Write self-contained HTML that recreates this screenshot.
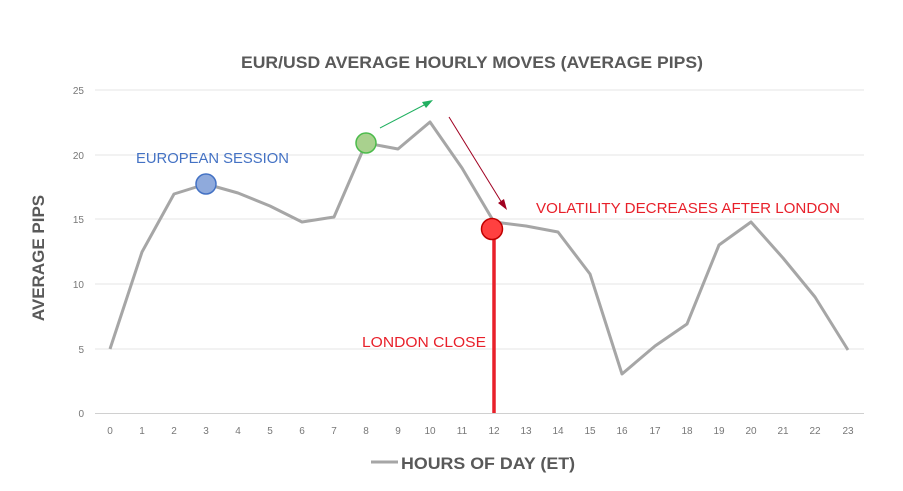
<!DOCTYPE html>
<html><head><meta charset="utf-8"><style>
body{margin:0;background:#fff;}
svg{display:block;font-family:"Liberation Sans",sans-serif;}
</style></head><body>
<svg width="903" height="491" viewBox="0 0 903 491">
<rect width="903" height="491" fill="#fff"/>
<text x="241" y="68" textLength="462" lengthAdjust="spacingAndGlyphs" font-size="17" font-weight="bold" fill="#595959">EUR/USD AVERAGE HOURLY MOVES (AVERAGE PIPS)</text>
<g stroke="#e6e6e6" stroke-width="1">
<line x1="95" y1="90" x2="864" y2="90"/>
<line x1="95" y1="155" x2="864" y2="155"/>
<line x1="95" y1="219" x2="864" y2="219"/>
<line x1="95" y1="284" x2="864" y2="284"/>
<line x1="95" y1="349" x2="864" y2="349"/>
</g>
<line x1="95" y1="413.5" x2="864" y2="413.5" stroke="#d0d0d0" stroke-width="1"/>
<g font-size="10" fill="#777" text-anchor="end">
<text x="84" y="94">25</text><text x="84" y="159">20</text><text x="84" y="223">15</text><text x="84" y="288">10</text><text x="84" y="353">5</text><text x="84" y="417">0</text>
</g>
<g font-size="10" fill="#777" text-anchor="middle">
<text x="110" y="434">0</text><text x="142" y="434">1</text><text x="174" y="434">2</text><text x="206" y="434">3</text><text x="238" y="434">4</text><text x="270" y="434">5</text><text x="302" y="434">6</text><text x="334" y="434">7</text><text x="366" y="434">8</text><text x="398" y="434">9</text><text x="430" y="434">10</text><text x="462" y="434">11</text><text x="494" y="434">12</text><text x="526" y="434">13</text><text x="558" y="434">14</text><text x="590" y="434">15</text><text x="622" y="434">16</text><text x="655" y="434">17</text><text x="687" y="434">18</text><text x="719" y="434">19</text><text x="751" y="434">20</text><text x="783" y="434">21</text><text x="815" y="434">22</text><text x="848" y="434">23</text>
</g>
<text transform="translate(44,258) rotate(-90)" text-anchor="middle" font-size="17" font-weight="bold" fill="#595959">AVERAGE PIPS</text>
<line x1="371" y1="462" x2="398" y2="462" stroke="#a6a6a6" stroke-width="3"/>
<text x="401" y="469" textLength="174" lengthAdjust="spacingAndGlyphs" font-size="17" font-weight="bold" fill="#595959">HOURS OF DAY (ET)</text>
<polyline fill="none" stroke="#a6a6a6" stroke-width="3" stroke-linejoin="round" points="110,349 142,252 174,194 206,184 238,193 270,206 302,222 334,217 366,143 398,149 430,122 462,168 494,222 526,226 558,232 590,274 622,374 655,346 687,324 719,245 751,222 783,258 815,297 848,350"/>
<line x1="494" y1="235" x2="494" y2="413" stroke="#e8202a" stroke-width="3.5"/>
<circle cx="206" cy="184" r="10" fill="#8faadc" stroke="#4472c4" stroke-width="1.5"/>
<circle cx="366" cy="143" r="10" fill="#a9d18e" stroke="#4cbb4c" stroke-width="1.5"/>
<circle cx="492" cy="229" r="10.5" fill="#ff4040" stroke="#c00000" stroke-width="1.5"/>
<line x1="380" y1="128" x2="426" y2="104" stroke="#20b060" stroke-width="1"/>
<polygon points="433,100 422,102 426,108" fill="#20b060"/>
<line x1="449" y1="117" x2="502" y2="203" stroke="#a00020" stroke-width="1"/>
<polygon points="507,210 498,203 504,199" fill="#a00020"/>
<text x="136" y="163" textLength="153" lengthAdjust="spacingAndGlyphs" font-size="15" fill="#4472c4">EUROPEAN SESSION</text>
<text x="362" y="347" textLength="124" lengthAdjust="spacingAndGlyphs" font-size="15" fill="#e8202a">LONDON CLOSE</text>
<text x="536" y="213" textLength="304" lengthAdjust="spacingAndGlyphs" font-size="15" fill="#e8202a">VOLATILITY DECREASES AFTER LONDON</text>
</svg>
</body></html>
